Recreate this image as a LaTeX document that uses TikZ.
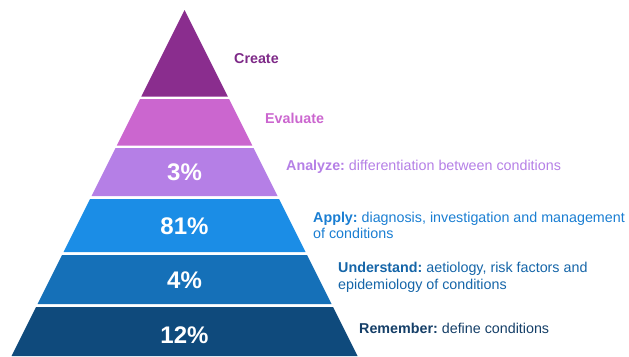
\documentclass[tikz,border=0pt]{standalone}
\usepackage{fontspec}
\setmainfont{Liberation Sans}
\usepackage{tikz}
\frenchspacing

\definecolor{createcol}{HTML}{8A2D8E}
\definecolor{evalcol}{HTML}{CB66CF}
\definecolor{analyzecol}{HTML}{B57FE6}
\definecolor{applycol}{HTML}{1B8DE6}
\definecolor{undercol}{HTML}{1570B8}
\definecolor{remcol}{HTML}{0F4A7C}
\definecolor{createtxt}{HTML}{7E2A88}
\definecolor{applytxt}{HTML}{1A7ED2}
\definecolor{undertxt}{HTML}{1565A8}
\definecolor{remtxt}{HTML}{153F68}

\tikzset{
    pct/.style={text=white, font=\fontsize{24}{28}\selectfont\bfseries, inner sep=0},
    lvl/.style={anchor=west, align=left, inner sep=0, font=\fontsize{14.3}{16.5}\selectfont}
}

\begin{document}
\begin{tikzpicture}[x=1pt, y=-1pt]
        \useasboundingbox (0, 0) rectangle (629, 356);
        \fill[createcol] (184.5, 10) -- (227.75, 96.5) -- (141.25, 96.5) -- cycle;
        \fill[evalcol] (140, 99) -- (229, 99) -- (252.25, 145.5) -- (116.75, 145.5) -- cycle;
        \fill[analyzecol] (115.5, 148) -- (253.5, 148) -- (277.5, 196) -- (91.5, 196) -- cycle;
        \fill[applycol] (90, 199) -- (279, 199) -- (305.5, 252) -- (63.5, 252) -- cycle;
        \fill[undercol] (62, 255) -- (307, 255) -- (331.5, 304) -- (37.5, 304) -- cycle;
        \fill[remcol] (36, 307) -- (333, 307) -- (357.5, 356) -- (11.5, 356) -- cycle;

        \node[pct] (P3) at (184.5, 172) {3\%};
        \node[pct] (P81) at (184.5, 226) {81\%};
        \node[pct] (P4) at (184.5, 280) {4\%};
        \node[pct] (P12) at (184.5, 335) {12\%};

        \node[lvl, text=createtxt] (Create) at (234, 59) {\textbf{Create}};
        \node[lvl, text=evalcol] (Evaluate) at (265, 118) {\textbf{Evaluate}};
        \node[lvl, text=analyzecol] (Analyze) at (286, 167) {\textbf{Analyze:} differentiation between conditions};
        \node[lvl, text=applytxt] (Apply) at (313, 225.5) {\textbf{Apply:} diagnosis, investigation and management\\of conditions};
        \node[lvl, text=undertxt] (Understand) at (338, 277.5) {\textbf{Understand:} aetiology, risk factors and\\epidemiology of conditions};
        \node[lvl, text=remtxt] (Remember) at (359, 328) {\textbf{Remember:} define conditions};
    \end{tikzpicture}
\end{document}
